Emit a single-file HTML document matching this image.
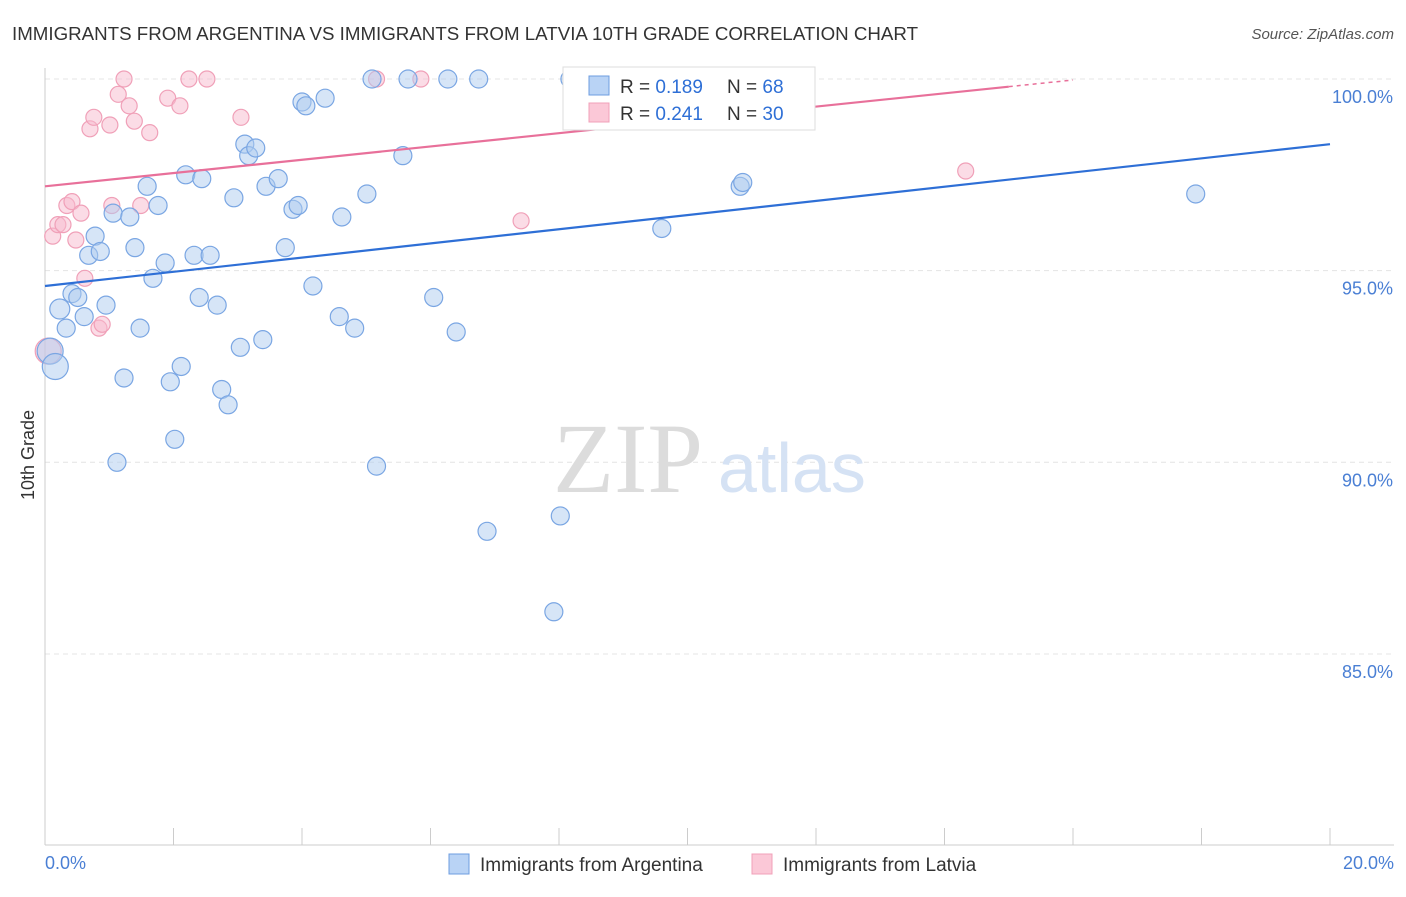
<!DOCTYPE html>
<html><head><meta charset="utf-8"><style>
body{margin:0;background:#fff;font-family:"Liberation Sans",sans-serif;}
</style></head><body>
<svg width="1406" height="892" xmlns="http://www.w3.org/2000/svg" font-family="Liberation Sans, sans-serif">
<text x="12" y="40" font-size="18" fill="#333" textLength="906" lengthAdjust="spacingAndGlyphs">IMMIGRANTS FROM ARGENTINA VS IMMIGRANTS FROM LATVIA 10TH GRADE CORRELATION CHART</text>
<text x="1394" y="39" font-size="15" fill="#555" font-style="italic" text-anchor="end">Source: ZipAtlas.com</text>
<g id="grid"></g>
<g id="axes"></g>
<text x="553" y="492" font-size="100" fill="#dcdcdc" style="font-family:'Liberation Serif',serif">ZIP</text>
<text x="718" y="492" font-size="70" fill="#d5e2f4">atlas</text>
<g id="pts"></g>
<g id="lines"></g>
<text transform="translate(34,455) rotate(-90)" font-size="18" fill="#333" text-anchor="middle">10th Grade</text>
<text x="45" y="869" font-size="18" fill="#4a7fd4">0.0%</text>
<text x="1394" y="869" font-size="18" fill="#4a7fd4" text-anchor="end">20.0%</text>
<g>
<rect x="563" y="67" width="252" height="63" fill="#fff" stroke="#ddd"/>
<rect x="589" y="76" width="20" height="19" fill="#b9d3f5" stroke="#6d9de0"/>
<text x="620" y="93" font-size="19" fill="#333">R = <tspan fill="#2e6fd6">0.189</tspan></text>
<text x="727" y="93" font-size="19" fill="#333">N = <tspan fill="#2e6fd6">68</tspan></text>
<rect x="589" y="103" width="20" height="19" fill="#fbc8d7" stroke="#f0a0b8"/>
<text x="620" y="120" font-size="19" fill="#333">R = <tspan fill="#2e6fd6">0.241</tspan></text>
<text x="727" y="120" font-size="19" fill="#333">N = <tspan fill="#2e6fd6">30</tspan></text>
</g>
<g>
<rect x="449" y="854" width="20" height="20" fill="#b9d3f5" stroke="#6d9de0"/>
<text x="480" y="871" font-size="19" fill="#333">Immigrants from Argentina</text>
<rect x="752" y="854" width="20" height="20" fill="#fbc8d7" stroke="#f0a0b8"/>
<text x="783" y="871" font-size="19" fill="#333">Immigrants from Latvia</text>
</g>
</svg>
<script>
const yTicks=[100,95,90,85];
const yTickLabels=["100.0%","95.0%","90.0%","85.0%"];
const xTicks=[0,2,4,6,8,10,12,14,16,18,20];
const blueX=[0.08,0.16,0.23,0.33,0.42,0.51,0.61,0.68,0.78,0.86,0.95,1.06,1.12,1.23,1.32,1.40,1.48,1.59,1.68,1.76,1.87,1.95,2.02,2.12,2.19,2.32,2.40,2.44,2.57,2.68,2.75,2.85,2.94,3.04,3.11,3.17,3.28,3.39,3.44,3.63,3.74,3.86,3.94,4.00,4.06,4.17,4.36,4.58,4.62,4.82,5.01,5.09,5.16,5.57,5.65,6.05,6.27,6.40,6.75,6.88,7.92,8.02,8.17,9.60,10.82,10.86,17.91];
const blueY=[92.9,92.5,94.0,93.5,94.4,94.3,93.8,95.4,95.9,95.5,94.1,96.5,90.0,92.2,96.4,95.6,93.5,97.2,94.8,96.7,95.2,92.1,90.6,92.5,97.5,95.4,94.3,97.4,95.4,94.1,91.9,91.5,96.9,93.0,98.3,98.0,98.2,93.2,97.2,97.4,95.6,96.6,96.7,99.4,99.3,94.6,99.5,93.8,96.4,93.5,97.0,100,89.9,98.0,100,94.3,100,93.4,100,88.2,86.1,88.6,100,96.1,97.2,97.3,97.0];
const pinkX=[0.05,0.12,0.20,0.28,0.34,0.42,0.48,0.56,0.62,0.70,0.76,0.84,0.89,1.01,1.04,1.14,1.23,1.31,1.39,1.49,1.63,1.91,2.10,2.24,2.52,3.05,5.16,5.85,7.41,14.33];
const pinkY=[92.9,95.9,96.2,96.2,96.7,96.8,95.8,96.5,94.8,98.7,99.0,93.5,93.6,98.8,96.7,99.6,100,99.3,98.9,96.7,98.6,99.5,99.3,100,100,99.0,100,100,96.3,97.6];
const blueR=[13,13,10,9,9,9,9,9,9,9,9,9,9,9,9,9,9,9,9,9,9,9,9,9,9,9,9,9,9,9,9,9,9,9,9,9,9,9,9,9,9,9,9,9,9,9,9,9,9,9,9,9,9,9,9,9,9,9,9,9,9,9,9,9,9,9,9];
const blueLine=[[0,94.6],[20,98.3]];
const pinkLine=[[0,97.2],[15,99.8]];
const X=v=>45+v*64.25, Y=v=>79+(100-v)*38.33;
const NS="http://www.w3.org/2000/svg";
function mk(t,a,p){const e=document.createElementNS(NS,t);for(const k in a)e.setAttribute(k,a[k]);p.appendChild(e);return e;}
const grid=document.getElementById('grid'),axes=document.getElementById('axes');
yTicks.forEach((v,i)=>{
 const l=mk('line',{x1:45,x2:1394,y1:Y(v),y2:Y(v),stroke:'#e4e4e4','stroke-dasharray':'5,4'},grid);
 
 
 const t=mk('text',{x:1393,y:Y(v)+24,'font-size':18,fill:'#4a7fd4','text-anchor':'end'},axes);
 t.textContent=yTickLabels[i];
 
 
});
mk('line',{x1:45,x2:45,y1:68,y2:845,stroke:'#ccc'},axes);
mk('line',{x1:45,x2:1394,y1:845,y2:845,stroke:'#ccc'},axes);
xTicks.forEach(v=>{const l=mk('line',{x1:X(v),x2:X(v),y1:828,y2:845,stroke:'#ccc'},axes);
 
 });
const pts=document.getElementById('pts');
pinkX.forEach((v,i)=>{const c=mk('circle',{cx:X(v),cy:Y(pinkY[i]),r:i==0?13:8,fill:'rgba(248,185,205,0.5)',stroke:'#f0a0b8','stroke-width':1.2},pts);
 
 });
blueX.forEach((v,i)=>{const c=mk('circle',{cx:X(v),cy:Y(blueY[i]),r:blueR[i],fill:'rgba(173,203,240,0.5)',stroke:'#7aa6e3','stroke-width':1.2},pts);
 
 });
const lg=document.getElementById('lines');
const bl=mk('line',{x1:X(blueLine[0][0]),y1:Y(blueLine[0][1]),x2:X(blueLine[1][0]),y2:Y(blueLine[1][1]),stroke:'#2e6fd6','stroke-width':2.2},lg);


const pl=mk('line',{x1:X(pinkLine[0][0]),y1:Y(pinkLine[0][1]),x2:X(pinkLine[1][0]),y2:Y(pinkLine[1][1]),stroke:'#e8709a','stroke-width':2.2},lg);


const s=(pinkLine[1][1]-pinkLine[0][1])/(pinkLine[1][0]-pinkLine[0][0]);
const pd=mk('line',{x1:X(pinkLine[1][0]),y1:Y(pinkLine[1][1]),x2:X(16),y2:Y(pinkLine[1][1]+s),stroke:'#e8709a','stroke-width':1.5,'stroke-dasharray':'4,4'},lg);


</script>
</body></html>
